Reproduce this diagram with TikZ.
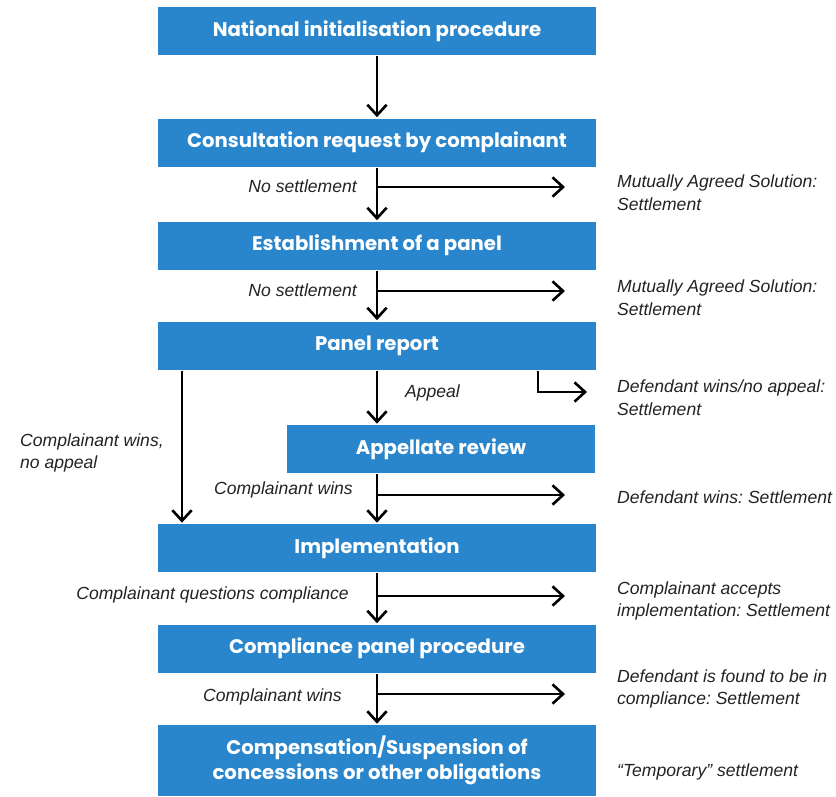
\documentclass[tikz,border=0pt]{standalone}
\usepackage{fontspec}
\setmainfont{Liberation Sans}
\newfontfamily\stagefont{Poppins}
\usetikzlibrary{arrows.meta,positioning,calc}
\definecolor{wtoblue}{RGB}{41,134,204}
\definecolor{inkgray}{RGB}{34,34,34}
\frenchspacing

\begin{document}
\begin{tikzpicture}[
    x=0.02cm, y=-0.02cm,
    line width=1.5pt,
    %
    stage/.style={fill=wtoblue, text=white, inner sep=0pt, align=center,
                  minimum width=8.78cm, minimum height=0.96cm,
                  font=\stagefont\bfseries\fontsize{11.2}{14}\selectfont},
    outcome/.style={anchor=west, align=left, text=inkgray,
                  font=\itshape\fontsize{10}{13}\selectfont},
    cond/.style={anchor=east, text=inkgray, font=\itshape\fontsize{10}{13}\selectfont},
    %
    pre/.style={-{Straight Barb[length=6pt,width=11pt]}},
    post/.style={{Straight Barb[length=6pt,width=11pt]}-}
    ]
    \useasboundingbox (0,0) rectangle (836,796);

    % stages down the middle
    \node[stage] (init)    at (377,31)    {National initialisation procedure};
    \node[stage] (consult) at (377,142.5) {Consultation request by complainant} edge[post] (init);
    \node[stage] (panel)   at (377,245.5) {Establishment of a panel} edge[post] (consult);
    \node[stage] (report)  at (377,345.5) {Panel report} edge[post] (panel);
    \node[stage, minimum width=6.18cm] (appeal) at (441,449) {Appellate review};
    \node[stage] (impl)    at (377,548)   {Implementation};
    \node[stage] (comply)  at (377,648.5) {Compliance panel procedure} edge[post] (impl);
    \node[stage, minimum height=1.42cm] (comp) at (377,760.5)
        {Compensation/Suspension of\\concessions or other obligations} edge[post] (comply);
    \draw[pre] (report.south) -- (report.south |- appeal.north);
    \draw[pre] (impl.north |- appeal.south) -- (impl.north);

    % conditions on the way down
    \node[cond] (nos1) at (364,186) {No settlement};
    \node[cond] (nos2) at (364,290) {No settlement};
    \node[anchor=west, text=inkgray, font=\itshape\fontsize{10}{13}\selectfont] (app) at (398,393) {Appeal};
    \node[outcome] (cwna) at (13,453) {Complainant wins,\\no appeal};
    \node[cond] (cw1) at (360,490) {Complainant wins};
    \node[cond] (cqc) at (356,595) {Complainant questions compliance};
    \node[cond] (cw2) at (349,697) {Complainant wins};

    % settlements on the right
    \node[outcome] (out1) at (610,193) {Mutually Agreed Solution:\\Settlement};
    \node[outcome] (out2) at (610,298) {Mutually Agreed Solution:\\Settlement};
    \node[outcome] (out3) at (610,398) {Defendant wins/no appeal:\\Settlement};
    \node[outcome] (out4) at (610,497) {Defendant wins: Settlement};
    \node[outcome] (out5) at (610,601) {Complainant accepts\\implementation: Settlement};
    \node[outcome] (out6) at (610,689) {Defendant is found to be in\\compliance: Settlement};
    \node[outcome] (out7) at (610,772) {``Temporary'' settlement};

    % branches to the right
    \coordinate (j1) at (377,187);  \coordinate (k1) at (565,187);
    \coordinate (j2) at (377,291);  \coordinate (k2) at (565,291);
    \coordinate (j4) at (377,495);  \coordinate (k4) at (565,495);
    \coordinate (j5) at (377,596);  \coordinate (k5) at (565,596);
    \coordinate (j6) at (377,694);  \coordinate (k6) at (565,694);
    \draw[pre] (j1) -- (k1);
    \draw[pre] (j2) -- (k2);
    \draw[pre] (j4) -- (k4);
    \draw[pre] (j5) -- (k5);
    \draw[pre] (j6) -- (k6);
    \coordinate (r1) at (538,392);  \coordinate (r2) at (587,392);
    \draw[pre] (report.south -| r1) -- (r1) -- (r2);

    % complainant wins without appeal
    \coordinate (lft) at (182,0);
    \draw[pre] (report.south -| lft) -- (impl.north -| lft);
\end{tikzpicture}
\end{document}
